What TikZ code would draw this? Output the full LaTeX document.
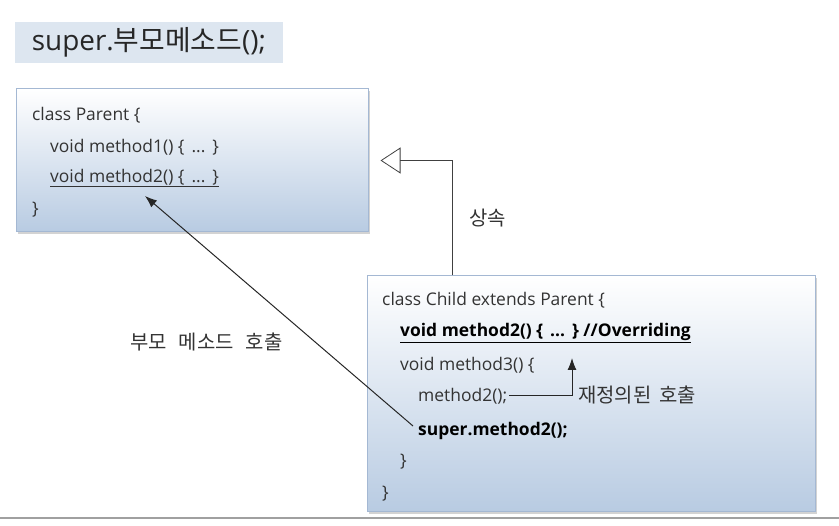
\documentclass[tikz,border=0pt]{standalone}
\usepackage{fontspec}
\setmainfont{Open Sans}
\newfontfamily\kr{Noto Sans CJK KR}
\usetikzlibrary{arrows.meta,shadows}
\definecolor{boxedge}{HTML}{A4B8D3}
\definecolor{boxbottom}{HTML}{B8CBE2}
\definecolor{titlefill}{HTML}{DDE6F0}
\definecolor{codegray}{HTML}{333333}
\definecolor{rulegray}{HTML}{A0A0A0}
\newcommand{\codebody}{\{\hspace{0.4em}...\hspace{0.4em}\}}

\begin{document}
\begin{tikzpicture}[
  x=1bp,y=1bp,>={Latex[length=12bp,width=9bp]},
  classbox/.style={draw=boxedge,line width=1bp,top color=white,bottom color=boxbottom,
    inner sep=0pt,drop shadow={shadow xshift=1.5bp,shadow yshift=-2.5bp,opacity=0.35}},
  code/.style={anchor=west,inner sep=0pt,font=\fontsize{17.5}{20}\selectfont,text=codegray},
  bold/.style={code,text=black,font=\fontsize{17.5}{20}\selectfont\bfseries},
  note/.style={anchor=west,inner sep=0pt,font=\kr\fontsize{20}{22}\selectfont,text=codegray},
  link/.style={->,draw=black!85,line width=1bp}
]
\useasboundingbox (0,0) rectangle (839,526);

% title
\node[fill=titlefill,minimum width=268bp,minimum height=41bp,inner sep=0pt,
  font=\fontsize{28}{30}\selectfont,text=black!85] (title) at (149,483.5) {super.{\kr 부모메소드}();};

% parent class
\node[classbox,minimum width=351bp,minimum height=143bp] (parent) at (192.5,365.5) {};
\node[code] (pcls) at (32,411) {class Parent \{};
\node[code] (pm1) at (50,379) {void method1() \codebody};
\node[code] (pm2) at (50,348) {\underline{void method2() \codebody}};
\node[code] (pend) at (32,316) {\}};

% child class
\node[classbox,minimum width=448bp,minimum height=236bp] (child) at (591,132) {};
\node[code] (ccls) at (382,226) {class Child extends Parent \{};
\node[bold] (cm2) at (400,193) {\underline{void method2() \codebody\ //Overriding}};
\node[code] (cm3) at (400,161) {void method3() \{};
\node[code] (m2call) at (418,130) {method2();};
\node[bold] (supcall) at (418,95) {super.method2();};
\node[code] (cm3end) at (400,64) {\}};
\node[code] (cend) at (382,32) {\}};

% labels
\node[note] (inh) at (469,308) {상속};
\node[note] (ovlabel) at (578,131) {재정의된\hspace{0.4em}호출};
\node[note] (plabel) at (130,184) {부모\hspace{0.6em}메소드\hspace{0.6em}호출};

% connectors
\coordinate (ibend) at (452,365);
\coordinate (ovtip) at (572,168);
\coordinate (ptip) at (145,330);
\draw[-{Triangle[open,length=20bp,width=26bp]},draw=black!75,line width=0.8bp]
  (child.north -| ibend) |- ([xshift=12bp]parent.east);
\draw[link] ([xshift=2bp]m2call.east) -| (ovtip);
\draw[link] ([xshift=-5bp,yshift=5bp]supcall.west) -- (ptip);

\draw[rulegray,line width=1.5bp] (0,8) -- (839,8);
\end{tikzpicture}
\end{document}
